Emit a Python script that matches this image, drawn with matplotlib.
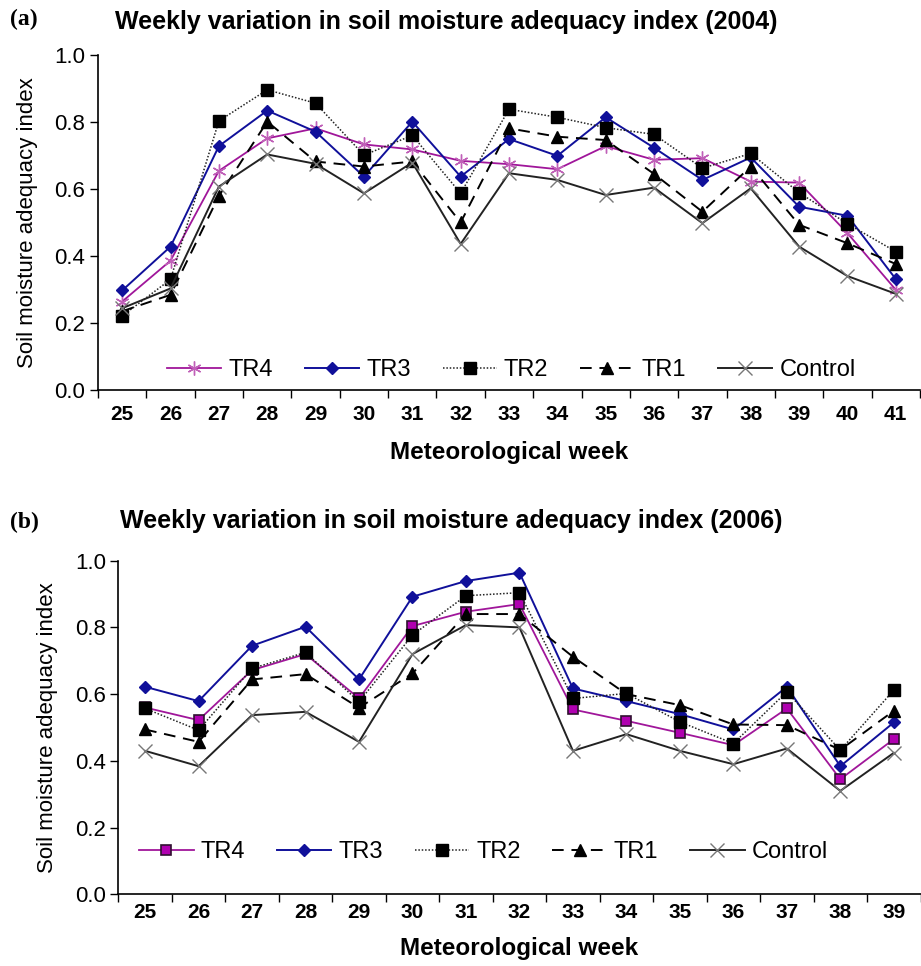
import numpy as np
import matplotlib.pyplot as plt

plt.rcParams['font.family'] = ['Liberation Sans', 'DejaVu Sans']

# (a) 2004
weeks_a = [25, 26, 27, 28, 29, 30, 31, 32, 33, 34, 35, 36, 37, 38, 39, 40, 41]
tr4_a = [0.264, 0.386, 0.654, 0.751, 0.781, 0.733, 0.718, 0.684, 0.674, 0.659, 0.728, 0.687, 0.692, 0.622, 0.619, 0.468, 0.299]
tr3_a = [0.297, 0.428, 0.728, 0.834, 0.771, 0.637, 0.801, 0.637, 0.749, 0.699, 0.814, 0.723, 0.627, 0.694, 0.547, 0.520, 0.331]
tr2_a = [0.221, 0.330, 0.803, 0.896, 0.856, 0.701, 0.760, 0.587, 0.838, 0.814, 0.783, 0.763, 0.662, 0.706, 0.589, 0.496, 0.413]
tr1_a = [0.235, 0.284, 0.579, 0.801, 0.682, 0.667, 0.682, 0.500, 0.781, 0.756, 0.746, 0.645, 0.532, 0.667, 0.493, 0.438, 0.376]
ctrl_a = [0.244, 0.303, 0.607, 0.703, 0.675, 0.587, 0.679, 0.436, 0.647, 0.627, 0.582, 0.604, 0.498, 0.602, 0.428, 0.340, 0.287]

# (b) 2006
weeks_b = [25, 26, 27, 28, 29, 30, 31, 32, 33, 34, 35, 36, 37, 38, 39]
tr4_b = [0.560, 0.522, 0.672, 0.720, 0.587, 0.804, 0.847, 0.870, 0.554, 0.520, 0.484, 0.447, 0.557, 0.345, 0.465]
tr3_b = [0.622, 0.579, 0.745, 0.802, 0.644, 0.892, 0.939, 0.964, 0.617, 0.579, 0.540, 0.494, 0.622, 0.384, 0.515]
tr2_b = [0.557, 0.492, 0.677, 0.725, 0.577, 0.777, 0.895, 0.904, 0.587, 0.602, 0.517, 0.452, 0.607, 0.432, 0.612]
tr1_b = [0.494, 0.457, 0.644, 0.660, 0.559, 0.662, 0.840, 0.840, 0.712, 0.600, 0.567, 0.509, 0.507, 0.433, 0.550]
ctrl_b = [0.430, 0.384, 0.537, 0.547, 0.457, 0.720, 0.807, 0.800, 0.430, 0.480, 0.430, 0.390, 0.437, 0.310, 0.424]

MAG = '#a0169a'
NAVY = '#10109a'


def panel(ax, weeks, tr4, tr3, tr2, tr1, ctrl, tr4_marker, leg_pos, tpad, lpad):
    x = np.arange(len(weeks))
    if tr4_marker == 'ast':
        ax.plot(x, tr4, color=MAG, lw=1.3, marker=(6, 2, 0), ms=10, mew=1.0,
                mec='#c060b8', label='TR4')
    else:
        ax.plot(x, tr4, color=MAG, lw=1.3, marker='s', ms=7, mfc='#b000b0',
                mec='#301030', mew=1.2, label='TR4')
    ax.plot(x, tr3, color=NAVY, lw=1.4, marker='D', ms=6, label='TR3')
    ax.plot(x, tr2, color='#222222', lw=1.1, ls=(0, (1, 1.2)), marker='s', ms=9,
            mfc='black', mec='black', label='TR2')
    ax.plot(x, tr1, color='black', lw=1.4, ls=(0, (6, 4)), marker='^', ms=8,
            label='TR1')
    ax.plot(x, ctrl, color='#222222', lw=1.4, marker='x', ms=10, mew=1.0,
            mec='#777777', label='Control')

    ax.set_xlim(-0.5, len(weeks) - 0.5)
    ax.set_ylim(0, 1.0)
    ax.set_xticks(x)
    ax.set_xticklabels([str(w) for w in weeks], fontsize=15, fontweight='bold')
    ax.set_xticks(np.arange(len(weeks) + 1) - 0.5, minor=True)
    ax.tick_params(axis='x', which='major', length=0, pad=tpad)
    ax.tick_params(axis='x', which='minor', length=6, direction='out', width=1)
    ax.set_yticks(np.arange(0, 1.01, 0.2))
    ax.set_yticklabels(['%.1f' % v for v in np.arange(0, 1.01, 0.2)], fontsize=16)
    ax.tick_params(axis='y', length=6, direction='out', width=1, pad=3)
    for s in ['top', 'right']:
        ax.spines[s].set_visible(False)
    for s in ['left', 'bottom']:
        ax.spines[s].set_linewidth(1.2)
    ax.set_ylabel('Soil moisture adequacy index', fontsize=16, labelpad=12)
    ax.set_xlabel('Meteorological week', fontsize=17.5, fontweight='bold', labelpad=lpad)
    ax.legend(loc='center left', bbox_to_anchor=leg_pos, ncol=5, frameon=False,
              fontsize=17, handlelength=2.3, columnspacing=1.35,
              handletextpad=0.3, borderaxespad=0, borderpad=0)


fig = plt.figure(figsize=(9.21, 9.66), dpi=100)

ax1 = fig.add_axes([0.1064, 0.5963, 0.8925, 0.3468])
panel(ax1, weeks_a, tr4_a, tr3_a, tr2_a, tr1_a, ctrl_a, 'ast', (0.084, 0.06), 11, 12)
ax2 = fig.add_axes([0.1285, 0.0742, 0.871, 0.3454])
panel(ax2, weeks_b, tr4_b, tr3_b, tr2_b, tr1_b, ctrl_b, 'sq', (0.026, 0.126), 6, 11)

fig.text(0.011, 0.980, '(a)', family='Liberation Serif', fontweight='bold',
         fontsize=17, va='center')
fig.text(0.125, 0.977, 'Weekly variation in soil moisture adequacy index (2004)',
         fontsize=18, fontweight='bold', va='center')
fig.text(0.011, 0.459, '(b)', family='Liberation Serif', fontweight='bold',
         fontsize=17, va='center')
fig.text(0.130, 0.461, 'Weekly variation in soil moisture adequacy index (2006)',
         fontsize=18, fontweight='bold', va='center')

fig.savefig('out.png', dpi=100)
